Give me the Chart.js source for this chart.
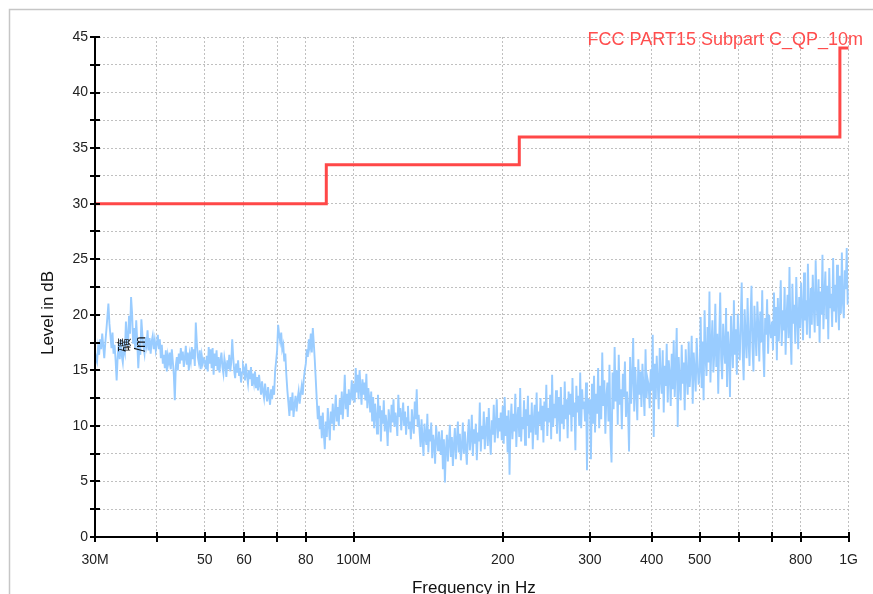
<!DOCTYPE html>
<html><head><meta charset="utf-8">
<script src="https://cdn.jsdelivr.net/npm/chart.js@4"></script>
<style>html,body{margin:0;padding:0;background:#fff;overflow:hidden}canvas{display:block}</style>
</head><body><canvas id="c" width="873" height="594"></canvas>
<script>
// ---- axis ticks (MHz) ----
const xTicks = [30,40,50,60,70,80,100,200,300,400,500,600,700,800,1000];
const xTickLabels = ['30M','','50','60','','80','100M','200','300','400','500','','','800','1G'];

// ---- limit line: FCC PART15 Subpart C_QP_10m ----
const limitName = 'FCC PART15 Subpart C_QP_10m';
const limitFreq = [30,88,88,216,216,960,960,1000];
const limitLevel = [30,30,33.5,33.5,36,36,44,44];

// ---- measured trace, level in dB per frequency band (MHz) ----
const bandEdges = [30,40,50,60,70,80,100,150,200,300,400,500,700,1000];
const lev30_40 = [15.5,16.2,15.8,17.1,16.4,17.8,16.9,18.3,17.2,16.1,17.5,18.6,19.8,21.0,19.2,18.1,17.0,18.4,16.5,17.3,15.9,14.1,16.2,17.4,16.0,17.8,16.3,15.7,17.1,16.6,19.4,18.0,17.2,19.9,18.3,21.6,20.1,17.4,18.8,16.9,19.5,17.6,15.2,17.0,16.4,19.6,18.2,17.1,16.5,18.0,17.3,18.6,16.8,17.9,16.5,17.6,18.1,16.9,17.7,16.8];
const lev40_50 = [17.4,18.2,16.9,17.8,16.1,17.3,15.6,16.4,15.2,16.8,14.9,16.3,15.7,16.6,15.1,16.9,15.8,14.6,12.3,15.4,16.2,15.0,16.5,15.6,17.0,15.9,16.7,15.3,16.1,17.2,15.5,16.6,15.0,16.4,15.8,17.1,16.0,16.9,15.4,19.3,17.5,16.2,15.7,16.8,15.1,16.3,15.6,16.0];
const lev50_60 = [15.8,15.1,16.3,14.9,17.1,15.6,16.9,15.2,17.0,14.6,16.5,15.4,16.8,15.0,16.2,14.8,15.9,16.6,15.3,14.7,16.1,15.5,14.4,15.9,15.1,16.4,14.9,15.7,17.8,16.2,15.0,14.3,15.6,14.8,15.9,14.5,15.2,13.9,14.8,15.5];
const lev60_70 = [15.2,14.1,15.6,14.5,13.8,15.0,14.2,15.3,13.6,14.7,13.9,14.9,13.4,14.4,13.2,14.6,13.7,12.8,14.0,13.1,12.5,13.8,12.9,12.2,13.5,12.6,11.9,13.3,12.4,13.6,12.8,14.9,15.8];
const lev70_80 = [16.8,19.1,18.2,17.6,18.4,16.9,17.3,15.8,16.5,14.6,13.2,12.1,10.9,12.6,11.4,13.0,10.8,11.9,12.7,11.3,12.4,13.1,12.0,12.9,13.6,12.8,14.2,15.0];
const lev80_100 = [15.6,16.9,16.2,17.8,17.1,18.3,16.6,18.8,17.4,15.9,14.1,12.3,10.6,11.8,9.7,10.9,8.9,11.2,9.3,7.9,10.4,9.0,11.6,10.1,8.7,11.3,10.2,12.0,9.6,11.1,12.8,10.4,11.7,10.0,12.4,11.0,13.1,10.6,12.2,14.6,11.5,12.9,10.8,13.3,11.9,12.6,14.1,12.3];
const lev100_150 = [13.8,12.1,15.2,13.0,14.6,12.4,15.0,13.5,11.9,14.2,12.8,13.9,12.3,14.7,11.6,13.4,12.5,
  11.2,13.1,10.4,12.6,9.8,12.0,11.1,9.3,12.8,10.7,11.8,8.6,11.4,10.2,12.3,9.5,11.0,10.1,8.2,11.5,
  10.6,9.4,11.9,10.3,12.4,9.9,11.2,10.5,9.1,12.8,10.8,11.6,9.6,10.9,12.1,10.0,11.3,9.2,10.7,11.8,9.7,10.4,8.8,11.5,10.1,9.3,12.2,10.6,13.3,9.9,11.0,
  9.4,8.1,10.6,8.8,7.3,10.2,9.0,8.3,11.1,7.6,9.7,8.6,10.3,7.1,9.2,8.4,6.6,10.0,8.9,7.8,9.5,8.2];
const lev150_200 = [7.4,9.6,6.1,8.8,4.9,7.9,9.2,6.8,8.5,10.1,7.2,9.0,6.4,8.3,9.8,7.0,8.7,10.4,7.6,9.3,6.9,8.1,10.3,7.5,9.5,8.0,6.5,9.1,10.6,7.8,8.9,11.0,7.3,9.7,8.4,10.2,6.9,9.4,8.6,12.1,7.7,10.0,8.8,11.3,7.9,9.6,10.8,8.2,11.6,9.0,7.4,10.5,9.2,11.9,8.5,10.1,12.4,8.9,10.7,9.5,11.2,8.7];
const lev200_300 = [11.8,8.4,12.6,9.1,10.9,7.6,11.4,5.6,10.2,12.0,8.8,11.1,9.5,12.9,8.1,10.6,11.7,9.0,13.4,8.6,10.8,9.7,12.3,8.3,11.5,10.0,12.7,8.9,11.0,9.4,12.1,7.9,10.5,11.9,9.2,13.0,8.7,11.3,10.1,12.5,9.6,11.8,8.5,12.2,10.4,13.7,9.1,11.6,10.3,12.8,8.8,14.6,9.9,12.0,10.7,13.2,9.3,11.4,12.6,8.6,13.5,10.2,11.9,9.7,14.0,10.6,12.4,8.9,13.1,11.0,12.9,9.5,14.3,10.8,12.1,7.8,13.6,11.2,12.7,10.0,14.8,9.8,13.3,11.5,12.2,10.4,13.9,6.0,12.5,11.1];
const lev300_400 = [12.4,7.0,13.8,10.2,14.5,9.4,12.9,11.1,15.2,9.8,13.6,10.6,16.6,11.8,14.1,9.3,12.7,13.9,10.4,15.5,8.9,6.7,14.8,11.5,17.1,12.2,15.0,10.1,16.4,11.9,13.3,9.7,14.7,12.6,15.8,10.8,13.1,11.4,7.7,16.2,12.0,14.4,17.9,11.3,15.3,13.0,10.5,16.0,12.8,14.9,11.7,15.6,13.4,10.9,16.9,12.5,14.2,13.7,11.6,15.1];
const lev400_500 = [13.2,18.2,9.0,15.6,12.4,16.3,13.9,11.5,17.0,14.2,12.9,16.8,11.2,15.4,13.6,17.4,12.1,15.9,14.7,11.8,16.5,13.3,17.7,12.6,15.1,18.8,9.9,16.2,14.0,12.3,17.3,13.8,15.7,11.4,16.9,14.5,12.8,17.6,13.5,15.2,18.1,12.0,16.6,14.9,13.1,17.9,15.3,13.7];
const lev500_700 = [15.1,19.8,13.4,17.6,12.3,20.4,16.2,14.5,18.9,15.7,22.1,13.9,17.2,19.5,14.8,16.6,21.0,15.3,18.3,12.9,17.8,22.0,16.0,14.2,19.2,17.0,15.6,20.6,13.5,18.5,16.8,12.6,19.9,17.4,15.2,21.3,16.4,18.7,14.6,20.1,17.3,15.9,19.4,22.9,16.7,14.1,20.5,18.0,16.1,21.5,17.7,15.4,19.6,22.6,17.1,14.9,20.8,18.4,16.3,21.2,19.0,15.8,20.3,17.5,22.2,16.9,14.4,19.7,18.2,21.4,16.5,20.0,18.8,17.9];
const lev700_1000 = [19.4,16.8,22.0,18.1,20.7,15.9,21.5,17.6,19.9,23.1,17.2,20.4,18.6,22.5,16.4,19.7,21.8,17.9,24.3,18.5,15.5,22.8,19.2,20.9,17.4,23.4,19.8,16.9,21.6,18.8,22.9,20.2,17.7,23.8,19.5,21.3,18.2,24.6,20.5,17.9,22.4,19.1,23.6,20.8,18.4,24.9,21.1,19.0,23.2,17.5,22.1,20.0,25.4,18.7,21.7,23.9,19.6,22.6,17.8,24.2,20.6,21.9,18.9,25.1,20.3,22.7,19.3,24.5,21.4,18.6,23.5,20.1,25.6,21.2,19.7,24.0,22.3,26.0,20.9,22.2];
const bandLevels = [lev30_40,lev40_50,lev50_60,lev60_70,lev70_80,lev80_100,lev100_150,lev150_200,lev200_300,lev300_400,lev400_500,lev500_700,lev700_1000];

// sweep points: each band's readings placed in order across that band
const trace = [];
bandLevels.forEach((arr, k) => {
  const f0 = bandEdges[k], f1 = bandEdges[k + 1];
  const last = k === bandLevels.length - 1;
  const n = last ? arr.length - 1 : arr.length;
  arr.forEach((v, i) => trace.push({x: f0 * Math.pow(f1 / f0, i / n), y: v}));
});
const limitPts = limitFreq.map((f, i) => ({x: f, y: limitLevel[i]}));

const FONT = '"Liberation Sans", Arial, sans-serif';

const decor = {
  id: 'decor',
  beforeDraw(chart) {
    const c = chart.ctx;
    c.save();
    c.fillStyle = '#fff';
    c.fillRect(0, 0, chart.width, chart.height);
    c.strokeStyle = '#c6c6c6';
    c.lineWidth = 1.5;
    c.strokeRect(9.5, 9.5, chart.width + 20, chart.height + 20);
    c.restore();
  },
  afterDatasetsDraw(chart) {
    const c = chart.ctx, a = chart.chartArea;
    const xs = chart.scales.x, ys = chart.scales.y;
    c.save();
    c.strokeStyle = '#000';
    c.lineWidth = 2;
    c.beginPath();
    c.moveTo(a.left, a.top - 1); c.lineTo(a.left, a.bottom);
    c.lineTo(a.right + 1, a.bottom);
    c.stroke();
    c.beginPath();
    ys.ticks.forEach(t => {
      const y = Math.round(ys.getPixelForValue(t.value));
      c.moveTo(a.left - 5, y); c.lineTo(a.left + 5, y);
    });
    xs.ticks.forEach(t => {
      const x = Math.round(xs.getPixelForValue(t.value));
      c.moveTo(x, a.bottom - 5); c.lineTo(x, a.bottom + 5);
    });
    c.stroke();
    c.restore();
  },
  afterDraw(chart) {
    const c = chart.ctx, a = chart.chartArea;
    c.save();
    c.fillStyle = '#ff4d4d';
    c.font = '18px ' + FONT;
    c.textAlign = 'right';
    c.textBaseline = 'alphabetic';
    c.fillText(limitName, chart.width - 10, a.top + 8);
    c.fillStyle = '#111';
    c.font = '17px ' + FONT;
    c.textAlign = 'center';
    c.fillText('Frequency in Hz', (a.left + a.right) / 2 + 2, a.bottom + 56);
    c.translate(48, a.top + 276);
    c.rotate(-Math.PI / 2);
    c.textBaseline = 'middle';
    c.font = '17px ' + FONT;
    c.fillText('Level in dB', 0, 0);
    c.restore();
    c.save();
    c.fillStyle = '#111';
    c.textAlign = 'center';
    c.textBaseline = 'middle';
    c.font = '14px "Noto Sans CJK SC", ' + FONT;
    c.translate(124, a.top + 308);
    c.rotate(-Math.PI / 2);
    c.fillText('礦', 0, 0);
    c.restore();
    c.save();
    c.fillStyle = '#111';
    c.textAlign = 'center';
    c.textBaseline = 'middle';
    c.font = '14px ' + FONT;
    c.translate(141, a.top + 307);
    c.rotate(-Math.PI / 2);
    c.fillText('/m', 0, 0);
    c.restore();
  }
};

new Chart(document.getElementById('c'), {
  type: 'line',
  data: {
    datasets: [
      {data: trace, borderColor: '#99ccff', borderWidth: 1.9, pointRadius: 0, tension: 0, order: 2},
      {data: limitPts, borderColor: '#ff4848', borderWidth: 3, pointRadius: 0, tension: 0, order: 1}
    ]
  },
  options: {
    responsive: false,
    animation: false,
    devicePixelRatio: 1,
    events: [],
    layout: {padding: {top: 37, right: 22, left: 0, bottom: 0}},
    plugins: {legend: {display: false}, tooltip: {enabled: false}},
    scales: {
      x: {
        type: 'logarithmic', min: 30, max: 1000,
        afterBuildTicks: s => { s.ticks = xTicks.map(v => ({value: v})); },
        afterFit: s => { s.height = 57; },
        grid: {color: '#c0c0c0', lineWidth: 1, drawTicks: false},
        border: {display: false, dash: [2, 2]},
        ticks: {autoSkip: false, maxRotation: 0, minRotation: 0, padding: 15, color: '#222',
          font: {family: FONT, size: 14}, callback: (v, i) => xTickLabels[i]}
      },
      y: {
        min: 0, max: 45,
        afterFit: s => { s.width = 95; },
        grid: {color: '#c0c0c0', lineWidth: 1, drawTicks: false},
        border: {display: false, dash: [2, 2]},
        ticks: {stepSize: 2.5, padding: 7, color: '#222', font: {family: FONT, size: 14},
          callback: v => Math.abs(v / 5 - Math.round(v / 5)) < 1e-6 ? String(Math.round(v)) : ''}
      }
    }
  },
  plugins: [decor]
});
</script>
</body></html>
